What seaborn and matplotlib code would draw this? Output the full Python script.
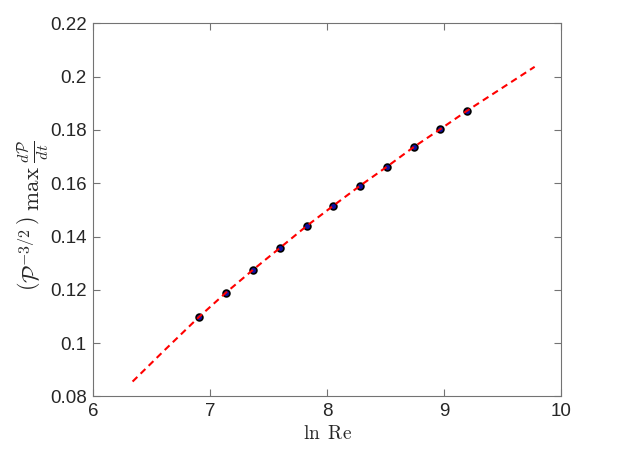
import matplotlib
matplotlib.use("Agg")
import matplotlib.pyplot as plt
import seaborn as sns
import pandas as pd

# data
ln_re = [6.905, 7.133, 7.365, 7.598, 7.826, 8.054, 8.280, 8.512, 8.742, 8.966, 9.198]
rate = [0.1099, 0.1189, 0.1275, 0.1358, 0.1440, 0.1516, 0.1590, 0.1662, 0.1736, 0.1802, 0.1872]

fit_x = [6.335, 6.60, 6.905, 7.133, 7.365, 7.598, 7.826, 8.054, 8.280, 8.512, 8.742, 8.966, 9.198, 9.50, 9.777]
fit_y = [0.0856, 0.0970, 0.1099, 0.1189, 0.1275, 0.1358, 0.1440, 0.1516, 0.1590, 0.1662, 0.1736, 0.1802, 0.1872, 0.1958, 0.2037]

x_ticks = [6, 7, 8, 9, 10]
y_ticks = [0.08, 0.1, 0.12, 0.14, 0.16, 0.18, 0.2, 0.22]
y_tick_labels = ["0.08", "0.1", "0.12", "0.14", "0.16", "0.18", "0.2", "0.22"]

sns.set_theme(style="ticks")
plt.rcParams["font.family"] = ["Liberation Sans", "DejaVu Sans"]
plt.rcParams["mathtext.fontset"] = "cm"

fig = plt.figure(figsize=(6.23, 4.67), dpi=100)
ax = fig.add_axes([0.150, 0.151, 0.750, 0.799])

pts = pd.DataFrame({"x": ln_re, "y": rate})
fit = pd.DataFrame({"x": fit_x, "y": fit_y})

sns.scatterplot(data=pts, x="x", y="y", ax=ax, s=24, color="#1010a0",
                edgecolor="black", linewidth=1.2, zorder=3)
sns.lineplot(data=fit, x="x", y="y", ax=ax, color="red", linewidth=1.5,
             sort=False, zorder=4)
ax.lines[-1].set_dashes((3.2, 2.2))

ax.set_xlim(6, 10)
ax.set_ylim(0.08, 0.22)
ax.set_xticks(x_ticks)
ax.set_xticklabels([str(t) for t in x_ticks])
ax.set_yticks(y_ticks)
ax.set_yticklabels(y_tick_labels)

for s in ax.spines.values():
    s.set_visible(True)
    s.set_color("0.45")
    s.set_linewidth(0.8)
ax.tick_params(direction="in", length=5, width=0.8, color="0.45",
               labelsize=13.5, labelcolor="#262626",
               top=True, right=True, pad=5)

ax.set_xlabel(r"$\ln\ \mathrm{Re}$", fontsize=14, color="#262626", labelpad=3)
ax.set_ylabel(r"$\left(\mathcal{P}^{-3/2}\,\right)\;\max\;\frac{d\mathcal{P}}{dt}$",
              fontsize=16.5, color="#262626")
ax.yaxis.set_label_coords(-0.09, 0.486)

fig.savefig("out.png", dpi=100, facecolor="white")
